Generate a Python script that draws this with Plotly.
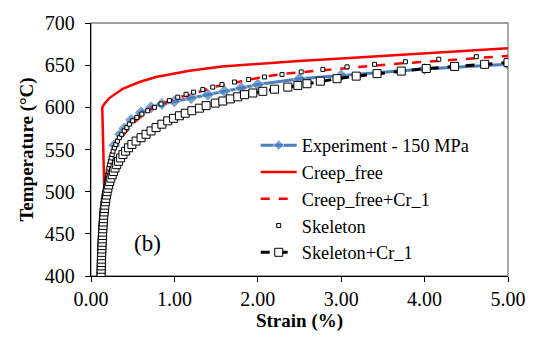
import plotly.graph_objects as go

# ---------------- data ----------------
exp_strain = [0.12, 0.14, 0.17, 0.21, 0.28, 0.35, 0.40, 0.48, 0.60, 0.72, 0.85, 1.0,
              1.2, 1.4, 1.6, 1.8, 2.0, 2.5, 3.0, 4.0, 5.0]
exp_temp = [400, 460, 500, 530, 555, 568, 575, 585, 594, 600, 604, 607,
            611, 615, 619, 623, 627, 634, 638, 645.5, 651]

cf_strain = [0.125, 0.135, 0.16, 0.145, 0.13, 0.135, 0.16, 0.22, 0.38, 0.58, 0.78, 1.18,
             1.57, 1.97, 2.49, 3.0, 3.44, 4.0, 4.5, 5.0]
cf_temp = [400, 450, 500, 550, 595, 600, 604, 611, 622, 630, 636, 643.5,
           648.5, 651.5, 655, 658, 660.8, 664, 667, 670]

cfcr_strain = [0.12, 0.14, 0.17, 0.22, 0.27, 0.33, 0.43, 0.55, 0.70, 0.90, 1.06, 1.20,
               1.46, 1.85, 2.11, 2.33, 2.61, 3.12, 3.60, 4.15, 4.59, 5.0]
cfcr_temp = [400, 460, 500, 530, 548, 562, 572, 585, 597, 606, 612, 615,
             624, 632, 637, 640, 642.5, 647.3, 651.2, 655, 658.5, 661]

sk_temp = [400, 404, 408, 412, 416, 420, 424, 428, 432, 436, 440, 444, 448, 452, 456,
           460, 464, 468, 472, 476, 480, 484, 488, 492, 496, 500, 504, 508, 512, 516,
           520, 524, 528, 532, 536, 540, 544, 548, 552, 556, 560, 564, 568, 572, 576,
           580, 584, 588, 592, 596, 600, 604, 608, 612, 615.5, 618, 621, 624, 627, 630,
           633, 636, 639, 642, 645, 648, 651, 654, 657, 660]
sk_strain = [0.120, 0.121, 0.122, 0.123, 0.124, 0.125, 0.126, 0.127, 0.129, 0.130,
             0.132, 0.133, 0.135, 0.137, 0.139, 0.141, 0.143, 0.145, 0.148, 0.151,
             0.154, 0.157, 0.160, 0.164, 0.168, 0.172, 0.177, 0.182, 0.188, 0.194,
             0.200, 0.207, 0.215, 0.223, 0.232, 0.242, 0.253, 0.265, 0.280, 0.298,
             0.318, 0.340, 0.368, 0.398, 0.430, 0.46, 0.50, 0.55, 0.61, 0.68,
             0.76, 0.84, 0.94, 1.04, 1.14, 1.23, 1.34, 1.46, 1.57, 1.72,
             1.89, 2.08, 2.29, 2.52, 2.78, 3.07, 3.40, 3.77, 4.17, 4.62]

skcr_temp = [400, 404, 408, 412, 416, 420, 424, 428, 432, 436, 440, 444, 448, 452, 456,
             460, 464, 468, 472, 476, 480, 484, 488, 492, 496, 500, 504, 508, 512, 516,
             520, 524, 528, 532, 536, 540, 544, 548, 552, 556, 560, 564, 568, 572, 576,
             580, 584, 587, 590, 593, 596, 599, 602, 605, 607.5, 610, 612.5, 615, 617,
             619, 621.5, 624, 626, 628, 631, 634, 637, 640, 643, 646, 648.5, 651, 653]
skcr_strain = [0.120, 0.121, 0.122, 0.123, 0.124, 0.125, 0.127, 0.128, 0.130, 0.131,
               0.133, 0.135, 0.137, 0.139, 0.141, 0.144, 0.147, 0.150, 0.153, 0.157,
               0.161, 0.166, 0.172, 0.178, 0.185, 0.193, 0.202, 0.212, 0.224, 0.238,
               0.254, 0.270, 0.288, 0.308, 0.330, 0.355, 0.383, 0.415, 0.45, 0.49,
               0.54, 0.60, 0.66, 0.72, 0.78, 0.85, 0.92, 0.99, 1.06, 1.13,
               1.21, 1.30, 1.38, 1.49, 1.58, 1.67, 1.76, 1.84, 1.94, 2.06,
               2.20, 2.36, 2.48, 2.59, 2.75, 2.95, 3.18, 3.43, 3.72, 4.02,
               4.36, 4.72, 5.0]

names = ["Experiment - 150 MPa", "Creep_free", "Creep_free+Cr_1", "Skeleton", "Skeleton+Cr_1"]
x_ticks = [0, 1, 2, 3, 4, 5]
y_ticks = [400, 450, 500, 550, 600, 650, 700]

FONT = "Liberation Serif"
BLUE = "#4A7EBB"
RED = "#FF0000"

# marker visibility for experiment: diamonds only on the measured part
exp_sizes = [0 if s < 0.25 else 10 for s in exp_strain]

fig = go.Figure()
fig.add_trace(go.Scatter(
    x=exp_strain, y=exp_temp, name=names[0], mode="lines+markers",
    line=dict(color=BLUE, width=3),
    marker=dict(symbol="diamond", size=exp_sizes, color=BLUE)))
fig.add_trace(go.Scatter(
    x=cf_strain, y=cf_temp, name=names[1], mode="lines",
    line=dict(color=RED, width=2.5)))
fig.add_trace(go.Scatter(
    x=cfcr_strain, y=cfcr_temp, name=names[2], mode="lines",
    line=dict(color=RED, width=2.5, dash="dash")))
fig.add_trace(go.Scatter(
    x=sk_strain, y=sk_temp, name=names[3], mode="markers",
    marker=dict(symbol="square", size=4, color="white",
                line=dict(color="black", width=1))))
fig.add_trace(go.Scatter(
    x=skcr_strain, y=skcr_temp, name=names[4], mode="lines+markers",
    line=dict(color="black", width=3, dash="dash"),
    marker=dict(symbol="square", size=8, color="white",
                line=dict(color="black", width=1))))

# gray frame on top/right
fig.add_shape(type="rect", xref="paper", yref="paper", x0=0, y0=0, x1=1, y1=1,
              line=dict(color="#808080", width=1.3), layer="below")

fig.add_annotation(x=0.68, y=439, text="(b)", showarrow=False,
                   font=dict(family=FONT, size=23, color="black"))

fig.update_layout(
    width=538, height=337,
    margin=dict(l=91, r=26, t=16, b=61),
    paper_bgcolor="white", plot_bgcolor="white",
    font=dict(family=FONT, color="black"),
    showlegend=True,
    legend=dict(x=0.395, y=0.59, xanchor="left", yanchor="top",
                font=dict(family=FONT, size=18.3, color="black"),
                bgcolor="rgba(0,0,0,0)", tracegroupgap=0, itemwidth=36),
)
fig.update_xaxes(
    range=[0, 5], tickvals=x_ticks, tickformat=".2f",
    showgrid=False, zeroline=False,
    showline=True, linecolor="black", linewidth=1.3,
    ticks="outside", ticklen=5, tickcolor="black",
    tickfont=dict(family=FONT, size=20),
    title=dict(text="<b>Strain (%)</b>", font=dict(family=FONT, size=19), standoff=0))
fig.update_yaxes(
    range=[400, 700], tickvals=y_ticks,
    showgrid=False, zeroline=False,
    showline=True, linecolor="black", linewidth=1.3,
    ticks="outside", ticklen=5, tickcolor="black", ticklabelstandoff=6,
    tickfont=dict(family=FONT, size=20),
    title=dict(text="<b>Temperature (°C)</b>", font=dict(family=FONT, size=19), standoff=6))

fig.write_html("out.html")
